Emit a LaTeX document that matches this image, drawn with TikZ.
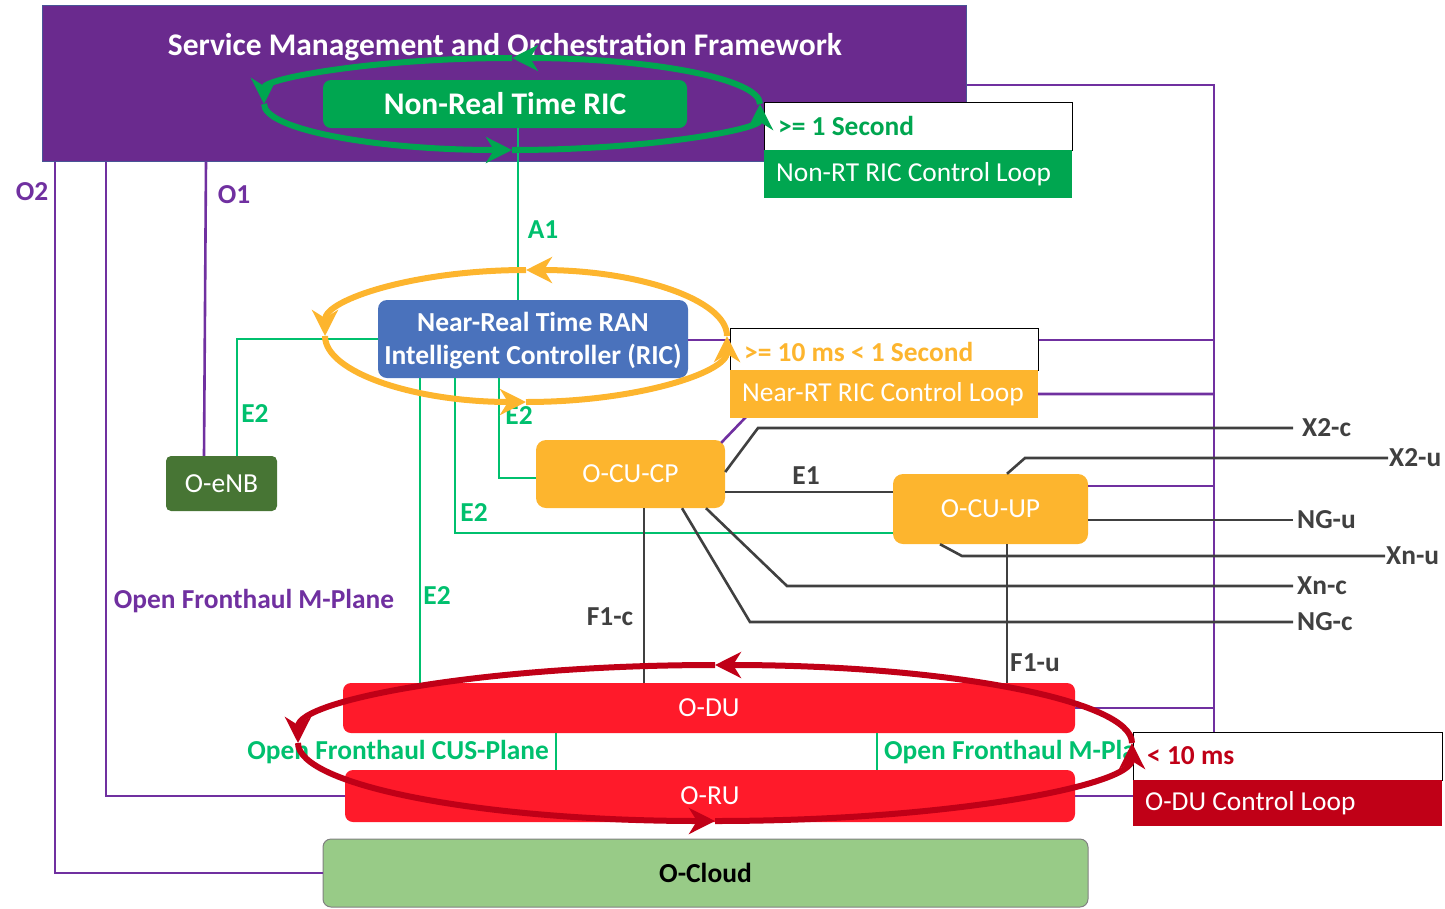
\documentclass[tikz,border=0pt]{standalone}
\usepackage{fontspec}
\setmainfont{Carlito}
\usetikzlibrary{arrows.meta,calc}
\definecolor{smoC}{RGB}{106,42,142}
\definecolor{smoB}{RGB}{72,84,150}
\definecolor{purpleL}{RGB}{112,48,160}
\definecolor{nrtG}{RGB}{0,166,80}
\definecolor{ifG}{RGB}{0,192,110}
\definecolor{ricB}{RGB}{74,114,188}
\definecolor{orC}{RGB}{253,181,46}
\definecolor{enbG}{RGB}{71,117,52}
\definecolor{duR}{RGB}{255,26,42}
\definecolor{loopR}{RGB}{192,0,23}
\definecolor{cloudG}{RGB}{152,203,135}
\definecolor{darkL}{RGB}{64,64,64}
\newcommand\fsT{\fontsize{31.5}{37}\selectfont}
\newcommand\fsB{\fontsize{27.5}{33}\selectfont}
\newcommand\fsL{\fontsize{27.4}{32}\selectfont}
\tikzset{
  unit/.style={rounded corners=8pt, inner sep=0pt, text=white, font=\fsB},
  pline/.style={draw=purpleL, line width=2.6pt},
  gline/.style={draw=ifG, line width=2.6pt},
  dline/.style={draw=darkL, line width=2.6pt},
  lbl/.style={font=\fsL\bfseries, inner sep=0pt},
  looparc/.style={line width=6pt, -{Stealth[length=26pt,width=26pt,inset=8pt]}},
  looptop/.style={draw=black, line width=1.4pt, fill=white, anchor=north west, inner sep=0pt},
  loopbot/.style={anchor=north west, inner sep=0pt},
}
\begin{document}
\begin{tikzpicture}[x=1pt,y=-1pt]
\useasboundingbox (0,0) rectangle (1445,908);
% SMO
\node[draw=smoB, line width=1pt, fill=smoC, minimum width=924pt, minimum height=156pt, inner sep=0pt] (smo) at (504,83) {};
\node[text=white, font=\fsT\bfseries, inner sep=0pt] (smotitle) at (505,47) {Service Management and Orchestration Framework};
% units
\node[unit, fill=nrtG, font=\fsT\bfseries, minimum width=364pt, minimum height=48pt] (nrtric) at (505,104) {Non-Real Time RIC};
\node[unit, fill=ricB, minimum width=310pt, minimum height=78pt, rounded corners=9pt] (nrric) at (533,339) {};
\node[font=\fsB\bfseries, text=white, align=center, inner sep=0pt] (nrrictext) at (533,341) {Near-Real Time RAN\\Intelligent Controller (RIC)};
\node[unit, fill=enbG, minimum width=111pt, minimum height=55pt, rounded corners=5pt] (oenb) at (221.5,483.5) {O-eNB};
\node[unit, fill=orC, minimum width=189pt, minimum height=68pt, rounded corners=10pt] (ocucp) at (630.5,474) {O-CU-CP};
\node[unit, fill=orC, minimum width=195pt, minimum height=70pt, rounded corners=10pt] (ocuup) at (990.5,509) {O-CU-UP};
\node[unit, fill=duR, minimum width=732pt, minimum height=50pt] (odu) at (709,708) {O-DU};
\node[unit, fill=duR, minimum width=730pt, minimum height=52pt] (oru) at (710,796) {O-RU};
\node[unit, fill=cloudG, draw=gray, line width=1pt, text=black, font=\fsB\bfseries, minimum width=765pt, minimum height=68pt] (ocloud) at (705.5,873) {O-Cloud};
% purple management lines
\coordinate (bus0) at (1214,85);
\coordinate (bus1) at (1214,340);
\coordinate (bus2) at (1214,394);
\coordinate (bus3) at (1214,486);
\coordinate (bus4) at (1214,708);
\draw[pline] (smo.east |- bus0) -- (bus0) |- (oru.east);
\draw[pline] (nrric.east |- bus1) -- (bus1);
\draw[pline] ([xshift=-4pt,yshift=-3pt]ocucp.north east) -- (768,394) -- (bus2);
\draw[pline] (bus3) -- (bus3 -| ocuup.east);
\draw[pline] (bus4) -- (bus4 -| odu.east);
\draw[pline] (smo.south -| 55,0) |- (ocloud.west);
\draw[pline] (smo.south -| 106,0) |- (oru.west);
\draw[pline] (smo.south -| 206,0) -- (oenb.north -| 204,0);
% green interfaces
\draw[gline] (nrtric.south -| 518,0) -- (nrric.north -| 518,0);
\draw[gline] (nrric.west) -| (oenb.north -| 237,0);
\draw[gline] (nrric.south -| 420,0) -- (odu.north -| 420,0);
\draw[gline] (nrric.south -| 455,0) |- ([yshift=-24pt]ocuup.west);
\draw[gline] (nrric.south -| 499,0) |- ([yshift=-4pt]ocucp.west);
\draw[gline] (odu.south -| 556,0) -- (oru.north -| 556,0);
\draw[gline] (odu.south -| 877,0) -- (oru.north -| 877,0);
% dark interfaces
\node[lbl, text=darkL, anchor=west, inner xsep=9pt] (x2c) at (1293,428) {X2-c};
\node[lbl, text=darkL, anchor=west, inner xsep=1pt] (x2u) at (1388,458) {X2-u};
\node[lbl, text=darkL, anchor=west, inner xsep=4pt] (ngu) at (1293,520) {NG-u};
\node[lbl, text=darkL, anchor=west, inner xsep=1pt] (xnu) at (1385,556) {Xn-u};
\node[lbl, text=darkL, anchor=west, inner xsep=4pt] (xnc) at (1293,586) {Xn-c};
\node[lbl, text=darkL, anchor=west, inner xsep=4pt] (ngc) at (1293,622) {NG-c};
\draw[dline] ([yshift=-18pt]ocucp.east) -- ([yshift=-18pt]ocucp.east -| ocuup.west);
\draw[dline] ([yshift=2pt]ocucp.east) -- (758,428) -- (x2c.west);
\draw[dline] (ocuup.north -| 1007,0) -- (1025,458) -- (x2u.west);
\draw[dline] ([yshift=-11pt]ocuup.east) -- (ngu.west);
\draw[dline] (ocuup.south -| 940,0) -- (962,556) -- (xnu.west);
\draw[dline] (ocucp.south -| 706,0) -- (787,586) -- (xnc.west);
\draw[dline] (ocucp.south -| 682,0) -- (750,622) -- (ngc.west);
\draw[dline] (ocucp.south -| 644,0) -- (odu.north -| 644,0);
\draw[dline] (ocuup.south -| 1007,0) -- (odu.north -| 1007,0);
% labels
\node[lbl, text=purpleL] (lo2) at (32,192) {O2};
\node[lbl, text=purpleL] (lo1) at (234,195) {O1};
\node[lbl, text=ifG] (la1) at (543,230) {A1};
\node[lbl, text=ifG] (le2a) at (255,414) {E2};
\node[lbl, text=ifG] (le2b) at (519,416) {E2};
\node[lbl, text=ifG] (le2c) at (474,513) {E2};
\node[lbl, text=ifG] (le2d) at (437,596) {E2};
\node[lbl, text=purpleL] (lofm) at (254,601) {Open Fronthaul M-Plane};
\node[lbl, text=darkL] (le1) at (806,476) {E1};
\node[lbl, text=darkL] (lf1c) at (610,617) {F1-c};
\node[lbl, text=darkL] (lf1u) at (1035,663) {F1-u};
\node[lbl, text=ifG, anchor=east] (lcus) at (549,752) {Open Fronthaul CUS-Plane};
\begin{scope}
  \clip (880,735) rectangle (1132,772);
  \node[lbl, text=ifG, anchor=west] (lofm2) at (884,752) {Open Fronthaul M-Plane};
\end{scope}
% loop boxes
\node[looptop, minimum width=308pt, minimum height=48pt] (l1t) at (764,102) {};
\node[loopbot, fill=nrtG, minimum width=308pt, minimum height=48pt] (l1b) at (764,150) {};
\node[lbl, text=nrtG, anchor=west] (l1a) at (778,126) {>= 1 Second};
\node[font=\fsL, text=white, anchor=west, inner sep=0pt] (l1c) at (776,174) {Non-RT RIC Control Loop};
\node[looptop, minimum width=308pt, minimum height=42pt] (l2t) at (730,328) {};
\node[loopbot, fill=orC, minimum width=308pt, minimum height=48pt] (l2b) at (730,370) {};
\node[lbl, text=orC, anchor=west] (l2a) at (744,352) {>= 10 ms < 1 Second};
\node[font=\fsL, text=white, anchor=west, inner sep=0pt] (l2c) at (742,394) {Near-RT RIC Control Loop};
\node[looptop, minimum width=309pt, minimum height=48pt] (l3t) at (1133,732) {};
\node[loopbot, fill=loopR, minimum width=309pt, minimum height=46pt] (l3b) at (1133,780) {};
\node[lbl, text=loopR, anchor=west] (l3a) at (1147,756) {< 10 ms};
\node[font=\fsL, text=white, anchor=west, inner sep=0pt] (l3c) at (1145,803) {O-DU Control Loop};
% control loops
\coordinate (cg) at (512,104);
\coordinate (co) at (526,336);
\coordinate (cr) at (715,743);
\foreach \a/\b in {0/90,90/180,180/270,270/360}{
  \draw[looparc, nrtG] ([shift={(\a:248pt and 46pt)}]cg) arc[start angle=\a, end angle=\b, x radius=248pt, y radius=46pt];
  \draw[looparc, orC] ([shift={(\a:201pt and 66pt)}]co) arc[start angle=\a, end angle=\b, x radius=201pt, y radius=66pt];
  \draw[looparc, loopR] ([shift={(\a:417pt and 78pt)}]cr) arc[start angle=\a, end angle=\b, x radius=417pt, y radius=78pt];
}
\end{tikzpicture}
\end{document}
